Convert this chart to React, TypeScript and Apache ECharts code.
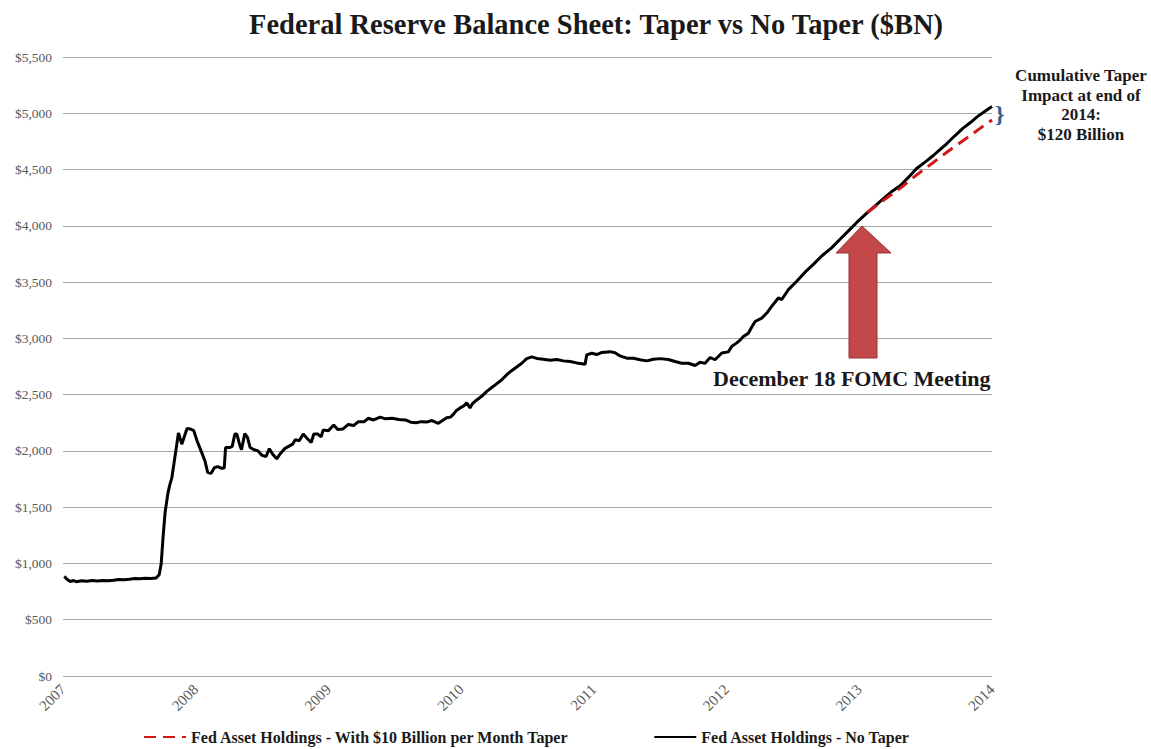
import React, { useEffect, useRef } from "react";
import * as echarts from "echarts";

// Weekly Fed asset holdings, $BN, keyed by fractional year
const noTaperSeries: [number, number][] = [
  [2007.01, 885], [2007.03, 860], [2007.055, 840], [2007.08, 848], [2007.1, 838],
  [2007.14, 846], [2007.18, 842], [2007.22, 848], [2007.26, 845], [2007.3, 848],
  [2007.34, 846], [2007.38, 850], [2007.42, 858], [2007.46, 856], [2007.5, 860],
  [2007.54, 866], [2007.58, 864], [2007.62, 868], [2007.66, 866], [2007.7, 870],
  [2007.725, 900], [2007.74, 1000], [2007.755, 1250], [2007.77, 1460], [2007.79, 1620],
  [2007.805, 1700], [2007.82, 1760], [2007.835, 1880], [2007.85, 2000], [2007.87, 2160],
  [2007.895, 2060], [2007.915, 2130], [2007.935, 2200], [2007.96, 2195], [2007.985, 2180],
  [2008.01, 2090], [2008.04, 2000], [2008.07, 1910], [2008.09, 1810], [2008.115, 1800],
  [2008.14, 1850], [2008.165, 1860], [2008.195, 1846], [2008.215, 1848], [2008.225, 2030],
  [2008.255, 2030], [2008.275, 2040], [2008.295, 2150], [2008.31, 2150], [2008.33, 2060],
  [2008.345, 2010], [2008.37, 2155], [2008.39, 2120], [2008.41, 2030], [2008.44, 2010],
  [2008.47, 2000], [2008.5, 1960], [2008.53, 1950], [2008.555, 2020], [2008.58, 1970],
  [2008.61, 1930], [2008.64, 1980], [2008.67, 2020], [2008.7, 2040], [2008.73, 2060],
  [2008.75, 2100], [2008.78, 2090], [2008.81, 2150], [2008.84, 2110], [2008.87, 2075],
  [2008.89, 2150], [2008.92, 2150], [2008.945, 2125], [2008.96, 2185], [2009.0, 2180],
  [2009.04, 2230], [2009.07, 2190], [2009.11, 2195], [2009.15, 2235], [2009.19, 2225],
  [2009.225, 2260], [2009.27, 2260], [2009.3, 2290], [2009.34, 2275], [2009.39, 2300],
  [2009.43, 2285], [2009.48, 2290], [2009.53, 2280], [2009.58, 2275], [2009.62, 2255],
  [2009.66, 2250], [2009.7, 2260], [2009.74, 2256], [2009.78, 2270], [2009.828, 2245],
  [2009.86, 2270], [2009.891, 2294], [2009.92, 2300], [2009.941, 2324], [2009.965, 2360],
  [2009.992, 2382], [2010.02, 2400], [2010.042, 2427], [2010.067, 2382], [2010.085, 2420],
  [2010.105, 2441], [2010.155, 2485], [2010.193, 2529], [2010.243, 2574], [2010.306, 2632],
  [2010.356, 2691], [2010.406, 2735], [2010.457, 2779], [2010.494, 2820], [2010.532, 2835],
  [2010.57, 2822], [2010.619, 2815], [2010.67, 2805], [2010.72, 2812], [2010.77, 2800],
  [2010.821, 2794], [2010.871, 2782], [2010.934, 2770], [2010.946, 2853], [2010.984, 2868],
  [2011.022, 2856], [2011.06, 2875], [2011.122, 2882], [2011.16, 2872], [2011.197, 2844],
  [2011.248, 2824], [2011.298, 2824], [2011.348, 2810], [2011.399, 2800], [2011.448, 2815],
  [2011.499, 2820], [2011.561, 2812], [2011.612, 2794], [2011.662, 2779], [2011.712, 2779],
  [2011.763, 2759], [2011.8, 2788], [2011.838, 2778], [2011.876, 2830], [2011.913, 2810],
  [2011.964, 2870], [2012.013, 2880], [2012.04, 2930], [2012.077, 2960], [2012.102, 2985],
  [2012.127, 3016], [2012.164, 3046], [2012.19, 3100], [2012.215, 3150], [2012.265, 3180],
  [2012.303, 3225], [2012.34, 3284], [2012.39, 3359], [2012.416, 3345], [2012.466, 3433],
  [2012.529, 3508], [2012.591, 3588], [2012.654, 3657], [2012.717, 3732], [2012.793, 3806],
  [2012.855, 3881], [2012.918, 3955], [2012.981, 4030], [2013.044, 4100], [2013.106, 4164],
  [2013.18, 4239], [2013.24, 4300], [2013.31, 4358], [2013.37, 4430], [2013.43, 4507],
  [2013.5, 4570], [2013.56, 4627], [2013.61, 4680], [2013.66, 4731], [2013.72, 4800],
  [2013.78, 4866], [2013.84, 4920], [2013.89, 4970], [2013.95, 5020], [2014.0, 5060],
];

// Same path after the December meeting with $10BN/month less purchasing
const taperSeries: [number, number][] = [
  [2013.06, 4118], [2013.18, 4225], [2013.31, 4335], [2013.43, 4450], [2013.56, 4565],
  [2013.68, 4672], [2013.81, 4780], [2013.95, 4900], [2014.0, 4940],
];

const seriesNames = [
  "Fed Asset Holdings - With $10 Billion per Month Taper",
  "Fed Asset Holdings - No Taper",
];

const titleText = "Federal Reserve Balance Sheet: Taper vs No Taper ($BN)";
const meetingLabel = "December 18 FOMC Meeting";
const impactLabel = "Cumulative Taper\nImpact at end of\n2014:\n$120 Billion";

const yearMin = 2007;
const yearMax = 2014;
const valueMax = 5500;
const valueStep = 500;

const SERIF = "'Liberation Serif', 'DejaVu Serif', serif";

export default function App() {
  const ref = useRef<HTMLDivElement>(null);

  useEffect(() => {
    if (!ref.current) return;
    const chart = echarts.init(ref.current, null, { renderer: "svg" });

    chart.setOption({
      animation: false,
      backgroundColor: "#ffffff",
      title: {
        text: titleText,
        left: 244,
        top: 5,
        textStyle: {
          fontFamily: SERIF,
          fontWeight: "bold",
          fontSize: 28.5,
          color: "#1a1a1a",
        },
      },
      grid: { left: 63, right: 159, top: 57, bottom: 73, containLabel: false },
      legend: {
        data: seriesNames,
        left: 138,
        top: 727,
        padding: [2, 5, 2, 5],
        itemGap: 84,
        itemWidth: 42,
        itemHeight: 14,
        itemStyle: { opacity: 0 },
        textStyle: {
          fontFamily: SERIF,
          fontWeight: "bold",
          fontSize: 16,
          lineHeight: 16,
          color: "#1a1a1a",
        },
      },
      xAxis: {
        type: "value",
        min: yearMin,
        max: yearMax,
        interval: 1,
        axisLine: { show: false },
        axisTick: { show: false },
        splitLine: { show: false },
        axisLabel: {
          rotate: 45,
          margin: 11,
          fontFamily: SERIF,
          fontSize: 15,
          color: "#595959",
          formatter: (v: number) => String(Math.round(v)),
        },
      },
      yAxis: {
        type: "value",
        min: 0,
        max: valueMax,
        interval: valueStep,
        axisLine: { show: false },
        axisTick: { show: false },
        splitLine: { lineStyle: { color: "#a6a6a6", width: 1 } },
        axisLabel: {
          margin: 11,
          fontFamily: SERIF,
          fontSize: 13.5,
          color: "#595959",
          formatter: (v: number) => "$" + v.toLocaleString("en-US"),
        },
      },
      series: [
        {
          name: seriesNames[1],
          type: "line",
          data: noTaperSeries,
          symbol: "none",
          lineStyle: { color: "#000000", width: 3 },
          itemStyle: { color: "#000000" },
          z: 2,
        },
        {
          name: seriesNames[0],
          type: "line",
          data: taperSeries,
          symbol: "none",
          lineStyle: { color: "#d01818", width: 3, type: [12, 7] },
          itemStyle: { color: "#d01818" },
          z: 3,
        },
      ],
      graphic: [
        {
          type: "polygon",
          shape: {
            points: [
              [862, 226],
              [891, 253],
              [877, 253],
              [877, 358],
              [849, 358],
              [849, 253],
              [836, 253],
            ],
          },
          style: { fill: "#c4474a", stroke: "#963336", lineWidth: 1 },
          z: 10,
        },
        {
          type: "text",
          x: 713,
          y: 367,
          style: {
            text: meetingLabel,
            font: `bold 22px ${SERIF}`,
            fill: "#1a1a1a",
          },
          z: 10,
        },
        {
          type: "text",
          x: 1081,
          y: 66,
          style: {
            text: impactLabel,
            font: `bold 17px ${SERIF}`,
            fill: "#1a1a1a",
            align: "center",
            lineHeight: 19.5,
          },
          z: 10,
        },
        {
          type: "text",
          x: 995,
          y: 102,
          style: {
            text: "}",
            font: `bold 24px ${SERIF}`,
            fill: "#2e5f8a",
          },
          z: 10,
        },
      ],
    });

    return () => chart.dispose();
  }, []);

  return (
    <div
      ref={ref}
      style={{
        position: "fixed",
        left: 0,
        top: 0,
        width: 1151,
        height: 749,
        background: "#ffffff",
      }}
    />
  );
}
